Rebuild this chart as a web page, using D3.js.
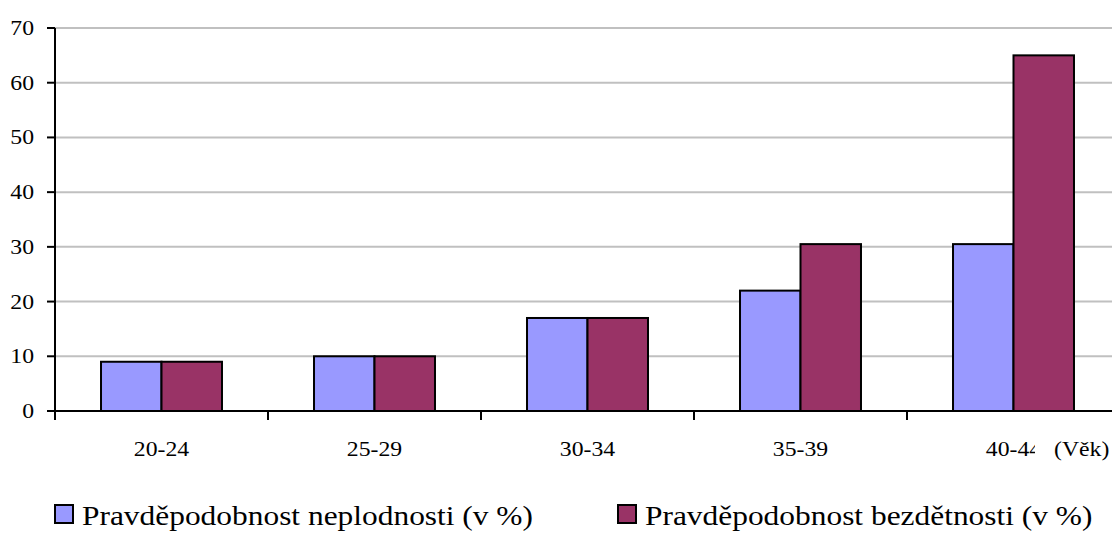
<!DOCTYPE html>
<html>
<head>
<meta charset="utf-8">
<script src="https://cdn.jsdelivr.net/npm/d3@7"></script>
<style>
  html, body { margin: 0; padding: 0; background: #fff; }
  svg { display: block; }
</style>
</head>
<body>
<svg id="chart" width="1112" height="536" font-family="'Liberation Serif', 'Times New Roman', Times, serif"></svg>
<script>
// Age groups and the two probability series (in %)
const categories = ["20-24", "25-29", "30-34", "35-39", "40-44"];
const seriesNames = ["Pravděpodobnost neplodnosti (v %)", "Pravděpodobnost bezdětnosti (v %)"];
const infertility = [9, 10, 17, 22, 30.5];
const childlessness = [9, 10, 17, 30.5, 65];
const yTicks = [0, 10, 20, 30, 40, 50, 60, 70];
const seriesColors = ["#9999FF", "#993366"];

const svg = d3.select("#chart");
const plotLeft = 55, plotTop = 28, plotBottom = 411, bandW = 213;
const plotRight = plotLeft + bandW * categories.length;
const stretch = 1.13; // glyphs are drawn slightly wide

const x = d3.scaleBand().domain(categories).range([plotLeft, plotRight]).padding(0);
const gap = bandW * 0.216;
const x1 = d3.scaleBand().domain([0, 1]).range([gap, bandW - gap]).padding(0);
const y = d3.scaleLinear().domain([0, 70]).range([plotBottom, plotTop]);

// horizontal gridlines
svg.append("g").selectAll("line").data(yTicks.filter(d => d > 0)).join("line")
  .attr("x1", plotLeft).attr("x2", 1112)
  .attr("y1", d => y(d)).attr("y2", d => y(d))
  .attr("stroke", "#c0c0c0").attr("stroke-width", 2);

// bars
const data = categories.map((c, i) => ({ c, v: [infertility[i], childlessness[i]] }));
const groups = svg.append("g").selectAll("g").data(data).join("g")
  .attr("transform", d => `translate(${x(d.c)},0)`);
groups.selectAll("rect").data(d => d.v.map((v, k) => ({ v, k }))).join("rect")
  .attr("x", d => x1(d.k))
  .attr("width", x1.bandwidth())
  .attr("y", d => y(d.v))
  .attr("height", d => y(0) - y(d.v))
  .attr("fill", d => seriesColors[d.k])
  .attr("stroke", "#000").attr("stroke-width", 2);

// y axis
const yAxis = svg.append("g");
yAxis.append("line").attr("x1", plotLeft).attr("x2", plotLeft).attr("y1", plotTop).attr("y2", plotBottom + 9)
  .attr("stroke", "#000").attr("stroke-width", 2);
yAxis.selectAll("line.t").data(yTicks).join("line").attr("class", "t")
  .attr("x1", plotLeft - 8).attr("x2", plotLeft).attr("y1", d => y(d)).attr("y2", d => y(d))
  .attr("stroke", "#000").attr("stroke-width", 2);
yAxis.selectAll("text").data(yTicks).join("text")
  .attr("transform", d => `translate(34,${y(d) + 7}) scale(${stretch},1)`)
  .attr("text-anchor", "end").attr("font-size", 21)
  .text(d => d);

// x axis
const xAxis = svg.append("g");
xAxis.append("line").attr("x1", plotLeft).attr("x2", 1112).attr("y1", plotBottom).attr("y2", plotBottom)
  .attr("stroke", "#000").attr("stroke-width", 2);
xAxis.selectAll("line.t").data(categories.slice(1)).join("line").attr("class", "t")
  .attr("x1", d => x(d)).attr("x2", d => x(d)).attr("y1", plotBottom).attr("y2", plotBottom + 9)
  .attr("stroke", "#000").attr("stroke-width", 2);
xAxis.selectAll("text").data(categories).join("text")
  .attr("transform", d => `translate(${x(d) + bandW / 2},456) scale(${stretch},1)`)
  .attr("text-anchor", "middle").attr("font-size", 21)
  .text(d => d);

// axis title on an opaque box
svg.append("rect").attr("x", 1035).attr("y", 434).attr("width", 90).attr("height", 30).attr("fill", "#fff");
svg.append("text").attr("transform", `translate(1054,456) scale(${stretch},1)`)
  .attr("font-size", 21).text("(Věk)");

// legend
const legendX = [55, 618];
const legend = svg.append("g").selectAll("g").data(seriesNames).join("g")
  .attr("transform", (d, i) => `translate(${legendX[i]},505)`);
legend.append("rect").attr("width", 18).attr("height", 18)
  .attr("fill", (d, i) => seriesColors[i]).attr("stroke", "#000").attr("stroke-width", 2);
legend.append("text").attr("transform", `translate(27,20) scale(${stretch},1)`)
  .attr("font-size", 27.8).text(d => d);
</script>
</body>
</html>
